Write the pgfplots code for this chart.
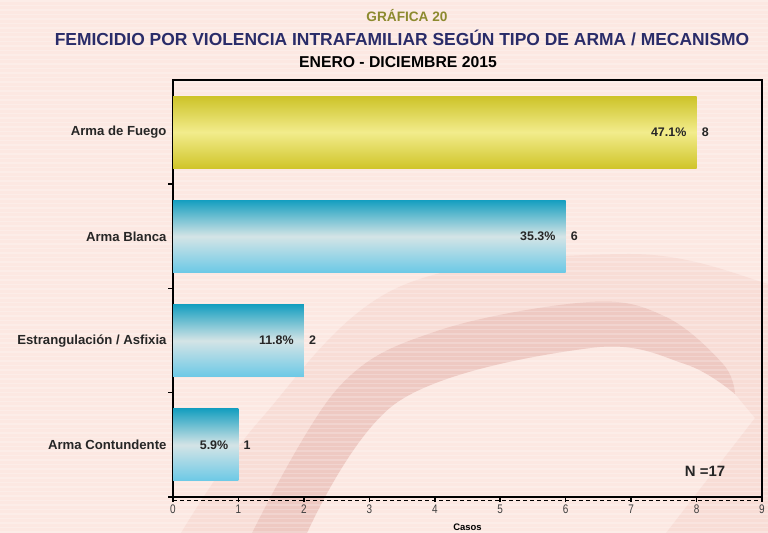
\documentclass[border=0pt]{standalone}
\usepackage{pgfplots}
\pgfplotsset{compat=1.18}
\usepackage{fontspec}
\setmainfont{Liberation Sans}
\newfontfamily\narrow[FakeStretch=0.80]{Liberation Sans}
\definecolor{bgpink}{RGB}{252,232,226}
\definecolor{bandpink}{RGB}{248,221,214}
\definecolor{crespink}{RGB}{238,201,194}
\definecolor{yTop}{RGB}{205,195,40}
\definecolor{yMid}{RGB}{242,236,140}
\definecolor{yBot}{RGB}{208,197,42}
\definecolor{bTop}{RGB}{22,159,192}
\definecolor{bMid}{RGB}{212,228,230}
\definecolor{bBot}{RGB}{108,201,230}
\definecolor{navy}{RGB}{42,44,105}
\definecolor{olive}{RGB}{140,138,46}
\pgfdeclareverticalshading{yshade}{100bp}{color(0bp)=(yBot); color(25bp)=(yBot); color(50bp)=(yMid); color(75bp)=(yTop); color(100bp)=(yTop)}
\pgfdeclareverticalshading{bshade}{100bp}{color(0bp)=(bBot); color(25bp)=(bBot); color(50bp)=(bMid); color(75bp)=(bTop); color(100bp)=(bTop)}
\begin{document}
\begin{tikzpicture}[x=1bp,y=1bp]
\useasboundingbox (0,0) rectangle (768,533);
\fill[bgpink] (0,0) rectangle (768,533);
% background swoosh
\fill[bandpink] plot[smooth,tension=0.6] coordinates {(181,0) (260,113) (399,246) (628,279) (768,249) (800,230)}
  -- (800,0) -- (666,0) -- (755,115) -- (735,139)
  -- plot[smooth,tension=0.6] coordinates {(735,139) (685,169) (590,185) (399,132) (307,0)} -- cycle;
\fill[crespink] plot[smooth,tension=0.6] coordinates {(252,0) (338,145) (437,202) (590,231) (666,216) (723,169) (735,139)}
  -- plot[smooth,tension=0.6] coordinates {(735,139) (685,169) (590,185) (399,132) (307,0)} -- cycle;
\foreach \y in {1,5.5,...,533} \draw[white,opacity=0.22,line width=1.2bp] (0,\y)--(768,\y);
% titles
\node[text=olive,font=\bfseries\fontsize{13.7}{14}\selectfont] at (407,517) {GRÁFICA 20};
\node[text=navy,font=\bfseries\fontsize{17.5}{18}\selectfont] at (402,495) {FEMICIDIO POR VIOLENCIA INTRAFAMILIAR SEGÚN TIPO DE ARMA / MECANISMO};
\node[text=black,font=\bfseries\fontsize{15.8}{16}\selectfont] at (398,471) {ENERO - DICIEMBRE 2015};
\begin{axis}[
  at={(173bp,36bp)}, anchor=south west,
  scale only axis, width=589bp, height=417bp,
  xmin=0, xmax=9, ymin=-0.5, ymax=3.5,
  xtick={0,...,9},
  ytick={-0.5,0.5,1.5,2.5}, yticklabels={},
  extra y ticks={0,1,2,3},
  extra y tick labels={Arma Contundente,Estrangulación / Asfixia,Arma Blanca,Arma de Fuego},
  extra y tick style={major tick length=0pt},
  tick pos=left,
  tick align=outside,
  major tick length=5bp,
  tick style={black, line width=1.5bp},
  axis line style={black, line width=2.2bp},
  /pgf/number format/assume math mode=true,
  xticklabel style={font=\narrow\fontsize{12.5}{12.5}\selectfont, text=black!75, yshift=1bp},
  yticklabel style={font=\bfseries\fontsize{13.2}{14}\selectfont, text=black!85, xshift=-3bp},
  xlabel={Casos},
  x label style={font=\bfseries\fontsize{9.5}{10}\selectfont, at={(axis description cs:0.5,0)}, anchor=center, yshift=-30bp},
  clip=false,
  every node near coord/.append style={font=\bfseries\fontsize{12.5}{13}\selectfont, text=black!85, anchor=west, inner sep=0pt, xshift=5bp},
]
\addplot[xbar, bar width=0.69, bar shift=0pt, draw=none, shading=yshade, nodes near coords] coordinates {(8,3)};
\addplot[xbar, bar width=0.69, bar shift=0pt, draw=none, shading=bshade, nodes near coords] coordinates {(6,2)};
\addplot[xbar, bar width=0.69, bar shift=0pt, draw=none, shading=bshade, nodes near coords] coordinates {(2,1)};
\addplot[xbar, bar width=0.69, bar shift=0pt, draw=none, shading=bshade, nodes near coords] coordinates {(1,0)};
\node[anchor=east, inner sep=0pt, xshift=-10bp, font=\bfseries\fontsize{12.5}{13}\selectfont, text=black!85] at (axis cs:8,3) {47.1\%};
\node[anchor=east, inner sep=0pt, xshift=-10bp, font=\bfseries\fontsize{12.5}{13}\selectfont, text=black!85] at (axis cs:6,2) {35.3\%};
\node[anchor=east, inner sep=0pt, xshift=-10bp, font=\bfseries\fontsize{12.5}{13}\selectfont, text=black!85] at (axis cs:2,1) {11.8\%};
\node[anchor=east, inner sep=0pt, xshift=-10bp, font=\bfseries\fontsize{12.5}{13}\selectfont, text=black!85] at (axis cs:1,0) {5.9\%};
\end{axis}
\draw[black, line width=1.3bp, dash pattern=on 4bp off 3bp] (173,32.5) -- (762,32.5);
\node[font=\bfseries\fontsize{15}{15}\selectfont, text=black!85] at (705,62) {N =17};
\end{tikzpicture}
\end{document}
